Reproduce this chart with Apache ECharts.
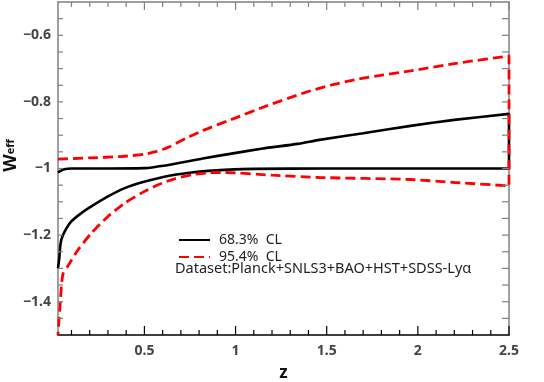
<!DOCTYPE html>
<html>
<head>
<meta charset="utf-8">
<script src="https://cdn.jsdelivr.net/npm/echarts@6/dist/echarts.min.js"></script>
<style>
  html, body {margin: 0; padding: 0; background: #fff;}
  #main {width: 544px; height: 382px;}
</style>
</head>
<body>
<div id="main"></div>
<script>
// contours, [z, w_eff]
let cl68Upper = [[0.026, -1.012], [0.04, -1.007], [0.06, -1.002], [0.1, -1.0], [0.3, -1.0], [0.5, -0.999],
  [0.55, -0.996], [0.64, -0.989], [0.82, -0.970], [0.97, -0.956], [1.15, -0.940], [1.34, -0.926],
  [1.46, -0.914], [1.7, -0.894], [1.96, -0.872], [2.2, -0.854], [2.5, -0.836]];
let cl68Lower = [[0.026, -1.30], [0.033, -1.27], [0.038, -1.235], [0.044, -1.214], [0.063, -1.189],
  [0.099, -1.159], [0.154, -1.134], [0.209, -1.114], [0.30, -1.084], [0.392, -1.059], [0.483, -1.042],
  [0.575, -1.029], [0.666, -1.019], [0.758, -1.012], [0.85, -1.007], [0.94, -1.004], [1.1, -1.001],
  [1.5, -1.0], [2.0, -1.0], [2.5, -1.0]];
let cl95Upper = [[0.026, -0.972], [0.2, -0.968], [0.376, -0.964], [0.5, -0.957], [0.55, -0.951],
  [0.6, -0.943], [0.64, -0.934], [0.73, -0.909], [0.82, -0.886], [1.0, -0.848], [1.17, -0.812],
  [1.38, -0.772], [1.52, -0.750], [1.67, -0.732], [1.81, -0.719], [1.96, -0.707], [2.2, -0.685],
  [2.5, -0.662]];
let cl95Lower = [[0.026, -1.5], [0.032, -1.45], [0.037, -1.414], [0.046, -1.344], [0.055, -1.314],
  [0.081, -1.292], [0.136, -1.244], [0.209, -1.194], [0.30, -1.144], [0.392, -1.104], [0.483, -1.074],
  [0.575, -1.049], [0.666, -1.031], [0.758, -1.019], [0.849, -1.013], [0.94, -1.012], [1.2, -1.02],
  [1.46, -1.027], [1.96, -1.033], [2.2, -1.042], [2.5, -1.052]];

let xLabels = [0.5, 1, 1.5, 2, 2.5];
let xMinorTicks = [0.1, 0.2, 0.3, 0.4, 0.6, 0.7, 0.8, 0.9, 1.1, 1.2, 1.3, 1.4, 1.6, 1.7, 1.8, 1.9,
  2.1, 2.2, 2.3, 2.4];
let yLabels = [-1.4, -1.2, -1, -0.8, -0.6];
let yTicks = [-1.45, -1.4, -1.35, -1.3, -1.25, -1.2, -1.15, -1.1, -1.05, -1, -0.95, -0.9, -0.85, -0.8,
  -0.75, -0.7, -0.65, -0.6, -0.55];

let legendNames = ['68.3%  CL', '95.4%  CL'];
let datasetNote = 'Dataset:Planck+SNLS3+BAO+HST+SDSS-Lyα';

let xMin = 0.026, xMax = 2.5, yMin = -1.5, yMax = -0.5;

// closed contour: upper branch left->right, then lower branch back
function closed(upper, lower) {
  return upper.concat(lower.slice().reverse());
}

let minus = function (v) {
  return String(v).replace('-', '\u2212');
};

// inward tick marks, placed with the grid's own coord()
// side: 'bottom' | 'top' | 'left' | 'right'
function tickSeries(values, side, len, color) {
  let data = values.map(function (v) {
    if (side === 'bottom') return [v, yMin];
    if (side === 'top') return [v, yMax];
    if (side === 'left') return [xMin, v];
    return [xMax, v];
  });
  return {
    type: 'custom', xAxisIndex: 0, yAxisIndex: 0, clip: false, silent: true, z: 5,
    data: data,
    renderItem: function (params, api) {
      let p = api.coord([api.value(0), api.value(1)]);
      let dx = 0, dy = 0;
      if (side === 'bottom') dy = -len;
      if (side === 'top') dy = len;
      if (side === 'left') dx = len;
      if (side === 'right') dx = -len;
      return {
        type: 'line',
        shape: {x1: p[0], y1: p[1], x2: p[0] + dx, y2: p[1] + dy},
        style: {stroke: color, lineWidth: 1.2}
      };
    }
  };
}

let font = 'Noto Sans';
let gray = '#808080';

let option = {
  animation: false,
  grid: {left: 58, right: 35, top: 2, bottom: 47, outerBoundsMode: 'none', containLabel: false},
  legend: {
    data: legendNames,
    orient: 'vertical',
    left: 178,
    top: 233,
    padding: 0,
    itemWidth: 31,
    itemHeight: 14,
    itemGap: 3,
    itemStyle: {opacity: 0},
    textStyle: {fontFamily: font, fontSize: 14, color: '#222', padding: [0, 0, 0, 4]}
  },
  graphic: [{
    type: 'text',
    left: 175,
    top: 261,
    style: {text: datasetNote, font: '14.5px "Noto Sans"', fill: '#222'}
  }],
  xAxis: [
    {
      type: 'value', position: 'bottom', min: xMin, max: xMax,
      name: 'z', nameLocation: 'middle', nameGap: 30, nameMoveOverlap: false,
      nameTextStyle: {fontFamily: font, fontWeight: 'bold', fontSize: 17, color: '#111'},
      axisLine: {show: true, onZero: false, lineStyle: {color: '#000', width: 1.5}},
      axisTick: {show: false},
      axisLabel: {customValues: xLabels, margin: 9, fontFamily: font, fontWeight: 'bold', fontSize: 14, color: '#444'},
      splitLine: {show: false}
    },
    {
      type: 'value', position: 'top', min: xMin, max: xMax,
      axisLine: {show: true, onZero: false, lineStyle: {color: gray, width: 1.5}},
      axisTick: {show: false},
      axisLabel: {show: false},
      splitLine: {show: false}
    }
  ],
  yAxis: [
    {
      type: 'value', position: 'left', min: yMin, max: yMax,
      name: '{w|W}{s|eff}', nameLocation: 'middle', nameRotate: 90, nameGap: 38, nameMoveOverlap: false,
      nameTextStyle: {
        padding: [0, 0, 0, 26],
        rich: {
          w: {fontFamily: font, fontWeight: 'bold', fontSize: 18, color: '#111'},
          s: {fontFamily: font, fontWeight: 'bold', fontSize: 11, color: '#111'}
        }
      },
      axisLine: {show: true, onZero: false, lineStyle: {color: gray, width: 1.5}},
      axisTick: {show: false},
      axisLabel: {customValues: yLabels, margin: 7, formatter: minus, fontFamily: font, fontWeight: 'bold', fontSize: 14, color: '#444'},
      splitLine: {show: false}
    },
    {
      type: 'value', position: 'right', min: yMin, max: yMax,
      axisLine: {show: true, onZero: false, lineStyle: {color: gray, width: 1.5}},
      axisTick: {show: false},
      axisLabel: {show: false},
      splitLine: {show: false}
    }
  ],
  series: [
    tickSeries(xLabels, 'bottom', 9, '#000'),
    tickSeries(xMinorTicks, 'bottom', 5, '#000'),
    tickSeries(xLabels, 'top', 8, gray),
    tickSeries(xMinorTicks, 'top', 5, gray),
    tickSeries(yTicks, 'left', 5, gray),
    tickSeries(yTicks, 'right', 7, gray),
    {
      name: legendNames[0], type: 'line', xAxisIndex: 0, yAxisIndex: 0,
      data: closed(cl68Upper, cl68Lower),
      symbol: 'none', smooth: 0.2, clip: true, z: 3,
      lineStyle: {color: '#000', width: 2.6},
      itemStyle: {color: '#000'}
    },
    {
      name: legendNames[1], type: 'line', xAxisIndex: 0, yAxisIndex: 0,
      data: closed(cl95Upper, cl95Lower),
      symbol: 'none', smooth: 0.2, clip: true, z: 3,
      lineStyle: {color: '#ff0000', width: 2.8, type: [10, 5]},
      itemStyle: {color: '#ff0000'}
    }
  ]
};

let myChart = echarts.init(document.getElementById('main'));
myChart.setOption(option);
</script>
</body>
</html>
